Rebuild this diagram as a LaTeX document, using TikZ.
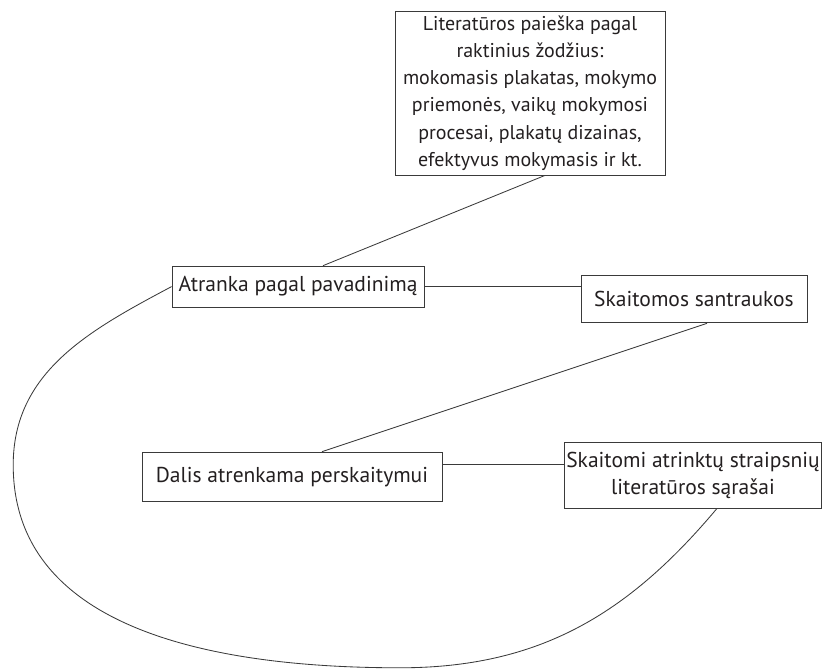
\documentclass[tikz,border=0pt]{standalone}
\usepackage{fontspec}
\setmainfont{PT Sans}
\usetikzlibrary{positioning}

\definecolor{inkline}{HTML}{3A3A3A}
\definecolor{inktext}{HTML}{231F20}

\begin{document}
\begin{tikzpicture}[
  box/.style={draw=inkline, line width=0.6pt, align=center, text=inktext,
              font=\fontsize{15.3}{19.2}\selectfont, inner sep=3pt},
  conn/.style={draw=inkline, line width=0.6pt},
]
\useasboundingbox (0,0) rectangle (20.55,16.775);

% Search step
\node[box, minimum width=6.75cm, minimum height=4.1cm, font=\fontsize{14.2}{19.4}\selectfont] (lit) at (13.25,14.45)
  {Literatūros paieška pagal\\raktinius žodžius:\\mokomasis plakatas, mokymo\\priemonės, vaikų mokymosi\\procesai, plakatų dizainas,\\efektyvus mokymasis ir kt.};

% Selection steps
\node[box, minimum width=6.3cm, minimum height=1.025cm] (atr) at (7.45,9.61) {Atranka pagal pavadinimą};
\node[box, minimum width=5.65cm, minimum height=1.175cm] (sant) at (17.35,9.29) {Skaitomos santraukos};
\node[box, minimum width=7.5cm, minimum height=1.225cm] (dal) at (7.3,4.86) {Dalis atrenkama perskaitymui};
\node[box, minimum width=6.35cm, minimum height=1.65cm, inner sep=1pt] (sar) at (17.325,4.9) {Skaitomi atrinktų straipsnių\\literatūros sąrašai};

\draw[conn] ([xshift=0.375cm]lit.south) -- ([xshift=0.625cm]atr.north);
\draw[conn] (atr.east) -- (atr.east -| sant.west);
\draw[conn] ([xshift=0.325cm]sant.south) -- ([xshift=0.75cm]dal.north);
\draw[conn] ([yshift=0.3cm]dal.east) -- ([yshift=0.3cm]dal.east -| sar.west);

% Loop back
\coordinate (lm) at (0.33,5.15);
\coordinate (bt) at (10,0.08);
\draw[conn] (atr.west) to[out=208,in=90] (lm) to[out=-90,in=180] (bt)
  to[out=0,in=230] ([xshift=0.6cm]sar.south);
\end{tikzpicture}
\end{document}
